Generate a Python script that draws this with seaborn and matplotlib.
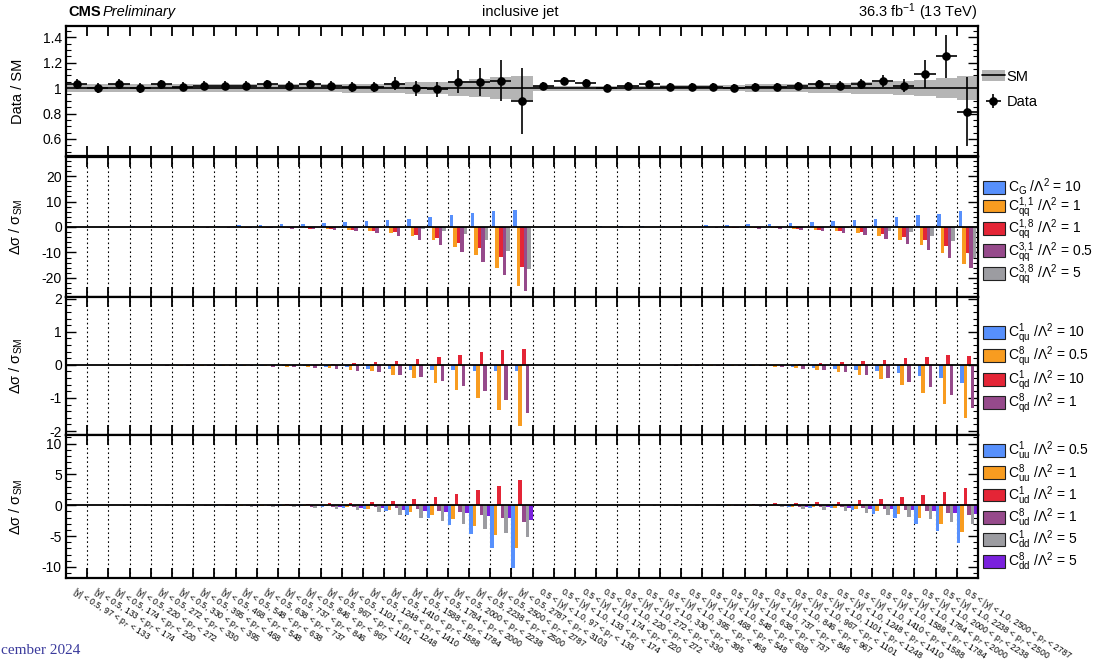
import numpy as np
import pandas as pd
import matplotlib
matplotlib.use("Agg")
import matplotlib.pyplot as plt
import seaborn as sns
from matplotlib.patches import Patch
from matplotlib.lines import Line2D
from matplotlib.ticker import AutoMinorLocator, FixedLocator

# ---------------- data ----------------
pt_edges = [97, 133, 174, 220, 272, 330, 395, 468, 548, 638, 737, 846, 967,
            1101, 1248, 1410, 1588, 1784, 2000, 2238, 2500, 2787, 3103]
n_bins_y1 = 22   # |y| < 0.5
n_bins_y2 = 21   # 0.5 < |y| < 1.0
tick_labels = ([f"|y| < 0.5, {pt_edges[i]} < p$_{{T}}$ < {pt_edges[i+1]}" for i in range(n_bins_y1)] +
               [f"0.5 < |y| < 1.0, {pt_edges[i]} < p$_{{T}}$ < {pt_edges[i+1]}" for i in range(n_bins_y2)])

data_ratio = [1.03, 1.00, 1.03, 1.00, 1.03, 1.01, 1.02, 1.02, 1.02, 1.03, 1.02,
              1.03, 1.02, 1.01, 1.01, 1.035, 1.00, 0.99, 1.05, 1.05, 1.06, 0.90,
              1.02, 1.06, 1.04, 1.00, 1.02, 1.03, 1.01, 1.01, 1.01, 1.00, 1.01,
              1.01, 1.02, 1.03, 1.02, 1.03, 1.055, 1.02, 1.11, 1.25, 0.815]
data_err = [0.04, 0.04, 0.04, 0.04, 0.035, 0.035, 0.035, 0.035, 0.035, 0.035, 0.035,
            0.035, 0.035, 0.04, 0.04, 0.05, 0.06, 0.06, 0.09, 0.11, 0.16, 0.26,
            0.03, 0.03, 0.03, 0.03, 0.03, 0.03, 0.03, 0.03, 0.03, 0.03, 0.03,
            0.03, 0.03, 0.035, 0.035, 0.04, 0.045, 0.05, 0.11, 0.17, 0.27]
sm_unc = [0.03, 0.03, 0.03, 0.03, 0.03, 0.03, 0.03, 0.03, 0.03, 0.03, 0.03,
          0.03, 0.03, 0.035, 0.035, 0.04, 0.045, 0.05, 0.06, 0.07, 0.085, 0.095,
          0.02, 0.02, 0.02, 0.02, 0.02, 0.02, 0.025, 0.025, 0.025, 0.025, 0.03,
          0.03, 0.03, 0.035, 0.04, 0.045, 0.05, 0.055, 0.065, 0.08, 0.092]

# panel 2
c_G = [0.1, 0.12, 0.15, 0.2, 0.25, 0.3, 0.4, 0.5, 0.65, 0.8, 1.0,
       1.2, 1.6, 2.0, 2.4, 2.8, 3.3, 3.9, 4.8, 5.5, 6.1, 6.8,
       0.1, 0.12, 0.15, 0.2, 0.25, 0.35, 0.45, 0.55,
       0.7, 0.8, 1.1, 1.35, 1.6, 2.0, 2.4, 2.8, 3.2, 3.9, 4.7, 5.1, 6.1]
c_qq11 = [-0.02, -0.03, -0.04, -0.05, -0.07, -0.1, -0.13, -0.17, -0.23, -0.3, -0.4,
          -0.5, -0.8, -1.3, -1.7, -2.5, -3.6, -5.2, -7.7, -11.0, -16.0, -23.0,
          -0.01, -0.01, -0.02, -0.03, -0.04, -0.05, -0.07, -0.1,
          -0.15, -0.25, -0.4, -0.55, -0.8, -1.2, -1.6, -2.3, -3.4, -5.0, -7.2, -10.3, -14.7]
c_qq18 = [-0.02, -0.03, -0.04, -0.05, -0.07, -0.1, -0.13, -0.17, -0.22, -0.3, -0.4,
          -0.6, -0.8, -1.2, -1.7, -2.0, -3.1, -4.3, -6.1, -8.4, -11.7, -15.6,
          -0.01, -0.01, -0.02, -0.03, -0.04, -0.05, -0.07, -0.1,
          -0.15, -0.25, -0.4, -0.5, -0.8, -1.1, -1.4, -1.8, -2.6, -3.9, -5.3, -7.3, -10.3]
c_qq31 = [-0.03, -0.04, -0.06, -0.08, -0.1, -0.14, -0.2, -0.27, -0.35, -0.5, -0.65,
          -0.8, -1.2, -1.7, -2.5, -3.6, -5.1, -7.1, -10.0, -13.7, -18.8, -25.3,
          -0.02, -0.02, -0.03, -0.04, -0.06, -0.08, -0.11, -0.15,
          -0.2, -0.35, -0.6, -0.9, -1.2, -1.6, -2.3, -3.2, -4.6, -6.5, -8.9, -12.0, -16.3]
c_qq38 = [-0.01, -0.01, -0.01, -0.02, -0.02, -0.03, -0.03, -0.04, -0.05, -0.06, -0.08,
          -0.1, -0.15, -0.2, -0.25, -0.35, -0.6, -1.5, -2.8, -5.3, -9.3, -16.4,
          -0.0, -0.0, -0.01, -0.01, -0.01, -0.01, -0.02, -0.02,
          -0.02, -0.03, -0.05, -0.07, -0.1, -0.15, -0.25, -0.5, -1.5, -2.0, -3.4, -5.6, -12.0]

# panel 3
c_qu1 = [-0.0, -0.005, -0.01, -0.01, -0.015, -0.02, -0.02, -0.03, -0.03, -0.04, -0.04,
         -0.05, -0.08, -0.08, -0.12, -0.14, -0.16, -0.16, -0.17, -0.18, -0.18, -0.19,
         -0.0, -0.0, -0.005, -0.005, -0.01, -0.01, -0.015, -0.02,
         -0.02, -0.03, -0.04, -0.05, -0.07, -0.09, -0.13, -0.16, -0.2, -0.24, -0.34, -0.41, -0.55]
c_qu8 = [-0.005, -0.005, -0.01, -0.01, -0.015, -0.02, -0.025, -0.03, -0.04, -0.05, -0.06,
         -0.07, -0.11, -0.16, -0.2, -0.3, -0.4, -0.55, -0.75, -1.01, -1.37, -1.84,
         -0.0, -0.0, -0.005, -0.005, -0.01, -0.01, -0.015, -0.02,
         -0.025, -0.035, -0.05, -0.06, -0.1, -0.17, -0.22, -0.32, -0.44, -0.62, -0.85, -1.17, -1.6]
c_qd1 = [0.0, 0.0, 0.0, 0.0, 0.0, 0.002, 0.003, 0.004, 0.005, 0.007, 0.008,
         0.01, 0.02, 0.06, 0.08, 0.13, 0.17, 0.23, 0.29, 0.39, 0.46, 0.48,
         0.0, 0.0, 0.0, 0.0, 0.0, 0.0, 0.0, 0.0,
         0.003, 0.005, 0.008, 0.01, 0.02, 0.05, 0.09, 0.12, 0.16, 0.2, 0.25, 0.29, 0.28]
c_qd8 = [-0.005, -0.01, -0.01, -0.015, -0.02, -0.025, -0.03, -0.04, -0.05, -0.06, -0.08,
         -0.1, -0.14, -0.18, -0.23, -0.3, -0.38, -0.49, -0.63, -0.8, -1.07, -1.47,
         -0.0, -0.005, -0.005, -0.01, -0.01, -0.015, -0.02, -0.03,
         -0.035, -0.045, -0.05, -0.07, -0.13, -0.17, -0.22, -0.3, -0.39, -0.51, -0.66, -0.91, -1.29]

# panel 4
c_uu1 = [0.0, 0.0, -0.01, -0.01, -0.02, -0.02, -0.03, -0.04, -0.05, -0.06, -0.08,
         -0.1, -0.27, -0.5, -0.6, -0.96, -1.5, -2.1, -3.2, -4.7, -6.9, -10.1,
         0.0, 0.0, 0.0, -0.005, -0.01, -0.01, -0.015, -0.02,
         -0.03, -0.05, -0.1, -0.15, -0.27, -0.43, -0.5, -0.8, -1.34, -2.0, -2.96, -4.25, -6.2]
c_uu8 = [0.0, 0.0, -0.005, -0.01, -0.01, -0.015, -0.02, -0.03, -0.04, -0.05, -0.06,
         -0.1, -0.1, -0.27, -0.6, -0.75, -1.06, -1.5, -2.3, -3.35, -4.8, -7.0,
         0.0, 0.0, 0.0, -0.005, -0.005, -0.01, -0.01, -0.015,
         -0.02, -0.04, -0.07, -0.1, -0.2, -0.27, -0.5, -0.6, -0.9, -1.34, -2.04, -2.96, -4.3]
c_ud1 = [0.01, 0.01, 0.02, 0.02, 0.03, 0.04, 0.05, 0.07, 0.09, 0.12, 0.15,
         0.2, 0.3, 0.4, 0.6, 0.7, 1.0, 1.33, 1.8, 2.45, 3.2, 4.1,
         0.0, 0.0, 0.005, 0.005, 0.01, 0.01, 0.02, 0.03,
         0.05, 0.1, 0.2, 0.35, 0.43, 0.54, 0.6, 0.8, 1.0, 1.3, 1.67, 2.15, 2.8]
c_ud8 = [-0.005, -0.01, -0.01, -0.015, -0.02, -0.03, -0.04, -0.05, -0.07, -0.1, -0.14,
         -0.2, -0.2, -0.27, -0.3, -0.5, -0.64, -0.85, -1.1, -1.55, -2.1, -2.66,
         0.0, 0.0, -0.005, -0.005, -0.01, -0.01, -0.015, -0.02,
         -0.02, -0.04, -0.06, -0.1, -0.2, -0.27, -0.27, -0.38, -0.54, -0.75, -0.9, -1.24, -1.6]
c_dd1 = [-0.02, -0.03, -0.04, -0.05, -0.07, -0.09, -0.12, -0.16, -0.2, -0.26, -0.32,
         -0.4, -0.6, -0.8, -1.1, -1.5, -2.0, -2.55, -3.1, -3.8, -4.5, -5.1,
         -0.01, -0.01, -0.02, -0.02, -0.03, -0.04, -0.05, -0.07,
         -0.1, -0.15, -0.27, -0.32, -0.54, -0.7, -0.97, -1.2, -1.5, -1.9, -2.26, -2.74, -3.06]
c_dd8 = [-0.005, -0.01, -0.01, -0.015, -0.02, -0.02, -0.03, -0.04, -0.05, -0.06, -0.08,
         -0.1, -0.27, -0.37, -0.5, -0.7, -0.85, -1.06, -1.3, -1.7, -2.0, -2.45,
         0.0, 0.0, -0.005, -0.005, -0.01, -0.01, -0.015, -0.02,
         -0.02, -0.04, -0.06, -0.1, -0.2, -0.27, -0.5, -0.54, -0.65, -0.7, -0.9, -1.3, -1.45]

L2 = r"/Λ$^{\mathrm{2}}$"
labels_p2 = [r"C$_{\mathrm{G}}$ " + L2 + " = 10",
             r"C$_{\mathrm{qq}}^{\mathrm{1,1}}$ " + L2 + " = 1",
             r"C$_{\mathrm{qq}}^{\mathrm{1,8}}$ " + L2 + " = 1",
             r"C$_{\mathrm{qq}}^{\mathrm{3,1}}$ " + L2 + " = 0.5",
             r"C$_{\mathrm{qq}}^{\mathrm{3,8}}$ " + L2 + " = 5"]
labels_p3 = [r"C$_{\mathrm{qu}}^{\mathrm{1}}$ " + L2 + " = 10",
             r"C$_{\mathrm{qu}}^{\mathrm{8}}$ " + L2 + " = 0.5",
             r"C$_{\mathrm{qd}}^{\mathrm{1}}$ " + L2 + " = 10",
             r"C$_{\mathrm{qd}}^{\mathrm{8}}$ " + L2 + " = 1"]
labels_p4 = [r"C$_{\mathrm{uu}}^{\mathrm{1}}$ " + L2 + " = 0.5",
             r"C$_{\mathrm{uu}}^{\mathrm{8}}$ " + L2 + " = 1",
             r"C$_{\mathrm{ud}}^{\mathrm{1}}$ " + L2 + " = 1",
             r"C$_{\mathrm{ud}}^{\mathrm{8}}$ " + L2 + " = 1",
             r"C$_{\mathrm{dd}}^{\mathrm{1}}$ " + L2 + " = 5",
             r"C$_{\mathrm{dd}}^{\mathrm{8}}$ " + L2 + " = 5"]
series_p2 = [c_G, c_qq11, c_qq18, c_qq31, c_qq38]
series_p3 = [c_qu1, c_qu8, c_qd1, c_qd8]
series_p4 = [c_uu1, c_uu8, c_ud1, c_ud8, c_dd1, c_dd8]

colors = ["#5790fc", "#f89c20", "#e42536", "#964a8b", "#9c9ca1", "#7a21dd"]

# ---------------- style ----------------
sns.set_theme(style="ticks")
plt.rcParams['font.family'] = ['Liberation Sans', 'DejaVu Sans']
plt.rcParams['mathtext.fontset'] = 'custom'
plt.rcParams['mathtext.rm'] = 'Liberation Sans'
plt.rcParams['mathtext.it'] = 'Liberation Sans:italic'
plt.rcParams['mathtext.bf'] = 'Liberation Sans:bold'
plt.rcParams['axes.unicode_minus'] = False
for key in ['text.color', 'axes.labelcolor', 'xtick.color', 'ytick.color', 'axes.edgecolor']:
    plt.rcParams[key] = 'black'

W, H = 1095, 661
fig = plt.figure(figsize=(W / 100, H / 100), dpi=100)

L, R = 66, 978


def rect(top, bot):
    return [L / W, 1 - bot / H, (R - L) / W, (bot - top) / H]


ax1 = fig.add_axes(rect(26, 156))
ax2 = fig.add_axes(rect(157, 297))
ax3 = fig.add_axes(rect(297, 435))
ax4 = fig.add_axes(rect(435, 578))

nb = n_bins_y1 + n_bins_y2
centers = np.arange(nb)
edges = np.arange(-0.5, nb + 0.5, 1)
FS = 10.5
TFS = 10
LFS = 10


def style_axis(ax, minor_n):
    ax.set_xlim(-0.5, nb - 0.5)
    ax.xaxis.set_major_locator(FixedLocator(centers))
    ax.xaxis.set_minor_locator(FixedLocator(edges[1:-1]))
    ax.tick_params(axis='x', which='major', length=0, labelbottom=False)
    ax.tick_params(axis='x', which='minor', direction='in', length=7, width=1.3,
                   top=True, bottom=True, color='black')
    ax.yaxis.set_minor_locator(AutoMinorLocator(minor_n))
    ax.tick_params(axis='y', which='major', direction='in', length=7, width=1.0,
                   left=True, right=True, labelsize=TFS, color='black', labelcolor='black', pad=3)
    ax.tick_params(axis='y', which='minor', direction='in', length=3.5, width=0.8,
                   left=True, right=True, color='black')
    for s in ax.spines.values():
        s.set_color('black')
        s.set_linewidth(1.6)


# ---------------- top panel ----------------
band_lo = np.array([1 - u for u in sm_unc] + [1 - sm_unc[-1]])
band_hi = np.array([1 + u for u in sm_unc] + [1 + sm_unc[-1]])
ax1.fill_between(edges, band_lo, band_hi, step='post', color='#b5b5b5', lw=0, zorder=1)
ax1.axhline(1, color='black', lw=1.2, zorder=2)
eb = ax1.errorbar(centers, data_ratio, yerr=data_err, xerr=0.5, fmt='o', color='black',
                  ms=5.2, elinewidth=1.2, capsize=0, zorder=3, label='Data')
ax1.set_ylim(0.465, 1.49)
ax1.set_yticks([0.6, 0.8, 1.0, 1.2, 1.4])
ax1.set_yticklabels(['0.6', '0.8', '1', '1.2', '1.4'])
style_axis(ax1, 4)
ax1.set_ylabel("Data / SM", fontsize=FS)
ax1.yaxis.set_label_coords(-0.045, 0.5)
sm_handle = (Patch(facecolor='#b5b5b5', edgecolor='none'), Line2D([0], [0], color='black', lw=1.2))
ax1.legend([sm_handle, eb], ["SM", "Data"], loc='upper left', bbox_to_anchor=(1.004, 0.665),
           frameon=False, fontsize=FS, handlelength=1.6, handletextpad=0.1,
           borderaxespad=0, labelspacing=0.8, borderpad=0)

# ---------------- bar panels ----------------
panels = [(ax2, series_p2, labels_p2, (-27.5, 27.5), [-20, -10, 0, 10, 20], -0.15, 0.467),
          (ax3, series_p3, labels_p3, (-2.12, 2.05), [-2, -1, 0, 1, 2], -0.08, 0.479),
          (ax4, series_p4, labels_p4, (-11.8, 11.4), [-10, -5, 0, 5, 10], -0.03, 0.5)]

for ax, series, labels, ylim, yt, lsp, ly in panels:
    n = len(series)
    rows = []
    for lab, vals in zip(labels, series):
        for k, v in enumerate(vals):
            rows.append({'bin': k, 'val': v, 'coef': lab})
    df = pd.DataFrame(rows)
    pal = dict(zip(labels, colors[:n]))
    sns.barplot(data=df, x='bin', y='val', hue='coef', order=list(range(nb)),
                hue_order=labels, palette=pal, width=n / 6.0, errorbar=None,
                saturation=1, linewidth=0, legend=False, ax=ax, zorder=2)
    for b in edges[1:-1]:
        ax.axvline(b, color='black', lw=0.8, ls=(0, (1.5, 2.5)), zorder=1)
    ax.axhline(0, color='black', lw=1.3, zorder=3)
    ax.set_ylim(*ylim)
    ax.set_yticks(yt)
    ax.set_yticklabels([str(t) for t in yt])
    style_axis(ax, 5)
    ax.set_xlabel("")
    ax.set_ylabel("Δσ / σ$_{\\mathrm{SM}}$", fontsize=FS)
    ax.yaxis.set_label_coords(-0.045, 0.5)
    handles = [Patch(facecolor=c, edgecolor='#222222', lw=0.8) for c in colors[:n]]
    ax.legend(handles, labels, loc='center left', bbox_to_anchor=(1.006, ly),
              frameon=False, fontsize=LFS, handlelength=1.55, handleheight=1.05,
              handletextpad=0.2, borderaxespad=0, labelspacing=lsp, borderpad=0)

# x tick labels on the bottom panel
ax4.set_xticks(centers)
ax4.set_xticklabels(tick_labels, rotation=-32, ha='left', va='top',
                    rotation_mode='anchor', fontsize=6.2, color='black')
ax4.tick_params(axis='x', which='major', length=0, labelbottom=True, pad=5)

# ---------------- header texts ----------------
fig.text(68 / W, 1 - 12 / H, "CMS", fontsize=FS, weight='bold', va='center', ha='left')
fig.text(103 / W, 1 - 12 / H, "Preliminary", fontsize=FS, style='italic', va='center', ha='left')
fig.text(520 / W, 1 - 12 / H, "inclusive jet", fontsize=FS, va='center', ha='center')
fig.text(977 / W, 1 - 12 / H, "36.3 fb$^{-1}$ (13 TeV)", fontsize=FS, va='center', ha='right')
fig.text(1 / W, 1 - 651 / H, "cember 2024", fontsize=11, family='Liberation Serif',
         color='#3a3a9c', va='center', ha='left')

fig.savefig("out.png", dpi=100)
